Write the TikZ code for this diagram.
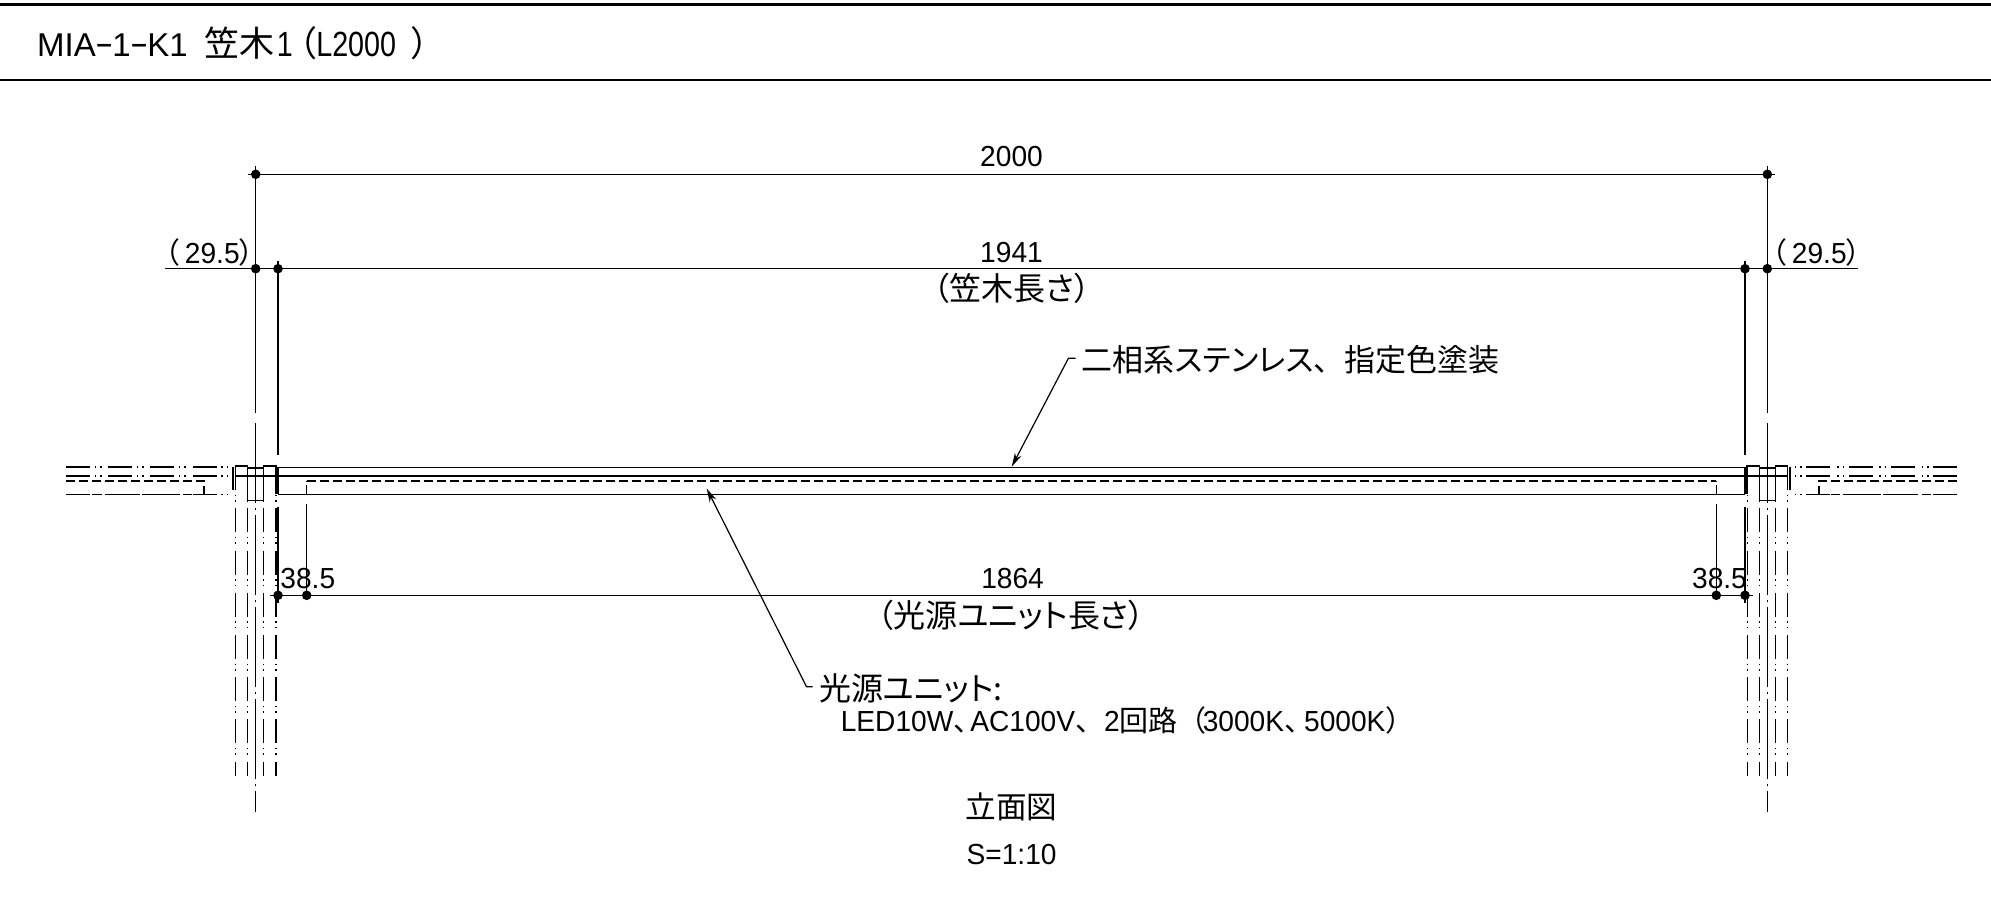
\documentclass[tikz,border=0pt]{standalone}
\usepackage{fontspec}
\usetikzlibrary{arrows.meta}
\setmainfont{Liberation Sans}
\newfontfamily\lat[FakeStretch=0.97]{Liberation Sans}
\newfontfamily\latT{Liberation Sans}
\newfontfamily\latN[FakeStretch=0.82]{Liberation Sans}
\newfontfamily\cjk[RawFeature=+palt]{Noto Sans CJK JP}
\newfontfamily\cjkF{Noto Sans CJK JP}
\newcommand{\J}[1]{{\cjk #1}}
\newcommand{\JF}[1]{{\cjkF #1}}
\newcommand{\wh}{\kern-0.5pt\raisebox{1pt}{\scalebox{1.7}[1]{-}}\kern-0.5pt}
\tikzset{
  x=0.5pt,y=-0.5pt,
  ln/.style={line width=0.75pt,black},
  thinln/.style={line width=0.6pt,black},
  phantomln/.style={line width=0.7pt,black,dash pattern=on 12pt off 2.25pt on .75pt off 2pt on .75pt off 3.35pt},
  centerln/.style={line width=0.7pt,black,dash pattern=on 40pt off 2.5pt on 1pt off 2.5pt},
  dashln/.style={line width=0.7pt,black,dash pattern=on 4.5pt off 2pt},
  dimdot/.style={circle,fill=black,inner sep=0pt,minimum size=4.8pt},
  lab/.style={inner sep=0pt,font=\fontsize{14.5}{16}\selectfont\lat,text=black},
  jlab/.style={inner sep=0pt,font=\fontsize{16}{18}\selectfont\cjk,text=black},
  tip/.style={-{Stealth[length=7pt,width=3.6pt]}},
}
\begin{document}
\begin{tikzpicture}
\useasboundingbox (0,0) rectangle (1991,899);
% header rules
\draw[line width=1.6pt] (0,4.5) -- (1991,4.5);
\draw[line width=1pt] (0,80) -- (1991,80);
% title
\node[anchor=west,inner sep=0pt,font=\fontsize{16.5}{19}\selectfont] (title) at (36.7,43)
  {\latT MIA\wh 1\wh K1\kern8.5pt{\fontsize{17.5}{19}\selectfont\cjk 笠木}\kern1pt{\fontsize{17.5}{19}\selectfont\latN 1\kern3pt{\cjk （}L2000\kern8pt{\cjk ）}}};

% symmetric parts: left (mirror 0) and right (mirror 1)
\foreach \m in {0,1}{
  \pgfmathsetmacro{\s}{\m==0 ? 1 : -1}
  \pgfmathsetmacro{\o}{\m==0 ? 0 : 2023}
  \begin{scope}[shift={(\o,0)},xscale=\s]
    % horizontal phantom rails
    \draw[phantomln] (66,467) -- (233,467);
    \draw[phantomln] (66,476) -- (233,476);
    \draw[phantomln] (66,494.3) -- (233,494.3);
    \draw[dashln] (66,481) -- (204,481) -- (204,494.3);
    \draw[dashln] (66,494.3) -- (204,494.3);
    % post
    \foreach \x in {235.3,247.5,263.7,275.8}{
      \draw[phantomln] (\x,466.25) -- (\x,776);
    }
    \draw[ln] (235.3,466) rectangle (247.5,476);
    \draw[ln] (263.7,466) rectangle (275.8,476);
    \draw[ln] (247.5,468) -- (263.7,468);
    \draw[ln] (235.3,476) -- (275.8,476);
    \draw[ln] (247.5,476) -- (247.5,500.7) -- (263.7,500.7) -- (263.7,476);
    \draw[ln] (233,467) -- (233,490);
    \draw[line width=1pt] (275.8,467) -- (275.8,494);
    % centre line
    \draw[ln] (255.7,174.3) -- (255.7,413);
    \draw[centerln] (255.7,423) -- (255.7,812);
    % witness lines
    \draw[ln] (278,262) -- (278,455);
    \draw[ln] (278,507) -- (278,603);
    \draw[ln] (306.7,504) -- (306.7,595.3);
    % dashed unit end
    \draw[dashln] (306.7,494.3) -- (306.7,481);
  \end{scope}
}

% body
\draw[ln] (278,467.3) -- (1745,467.3);
\draw[line width=1.1pt] (278,476) -- (1745,476);
\draw[ln] (278,467.3) -- (278,494.3);
\draw[ln] (1745,467.3) -- (1745,494.3);
\draw[ln] (278,494.3) -- (1745,494.3);
\draw[dashln] (306.7,481) -- (1716.3,481);
\draw[dashln] (306.7,494.3) -- (1716.3,494.3);

% dimensions
\coordinate (dA1) at (255.7,174.3); \coordinate (dA2) at (1767.3,174.3);
\coordinate (dB0) at (165,268.7);   \coordinate (dB1) at (255.7,268.7);
\coordinate (dB2) at (278,268.7);   \coordinate (dB3) at (1745,268.7);
\coordinate (dB4) at (1767.3,268.7);\coordinate (dB5) at (1858,268.7);
\coordinate (dC0) at (270,595.3);   \coordinate (dC1) at (278,595.3);
\coordinate (dC2) at (306.7,595.3); \coordinate (dC3) at (1716.3,595.3);
\coordinate (dC4) at (1745,595.3);  \coordinate (dC5) at (1753,595.3);
\draw[ln] ([xshift=-4pt]dA1) -- ([xshift=4pt]dA2);
\draw[ln] (dB0) -- (dB5);
\draw[ln] (dC0) -- (dC5);
\draw[ln] ([yshift=4pt]dA1) -- (dA1);
\draw[ln] ([yshift=4pt]dA2) -- (dA2);
\draw[ln] ([yshift=4pt]dB2) -- (dB2);
\draw[ln] ([yshift=4pt]dB3) -- (dB3);
\foreach \c in {dA1,dA2,dB1,dB2,dB3,dB4,dC1,dC2,dC3,dC4}{
  \node[dimdot] at (\c) {};
}

% dimension texts
\node[lab] (t2000) at (1011.5,157) {2000};
\node[lab] (t1941) at (1011.5,252.5) {1941};
\node[lab] (t1864) at (1012.6,578.5) {1864};
\node[lab,anchor=west] (tl295) at (165,252.7) {\J{（}\kern2.5pt 29.5\J{）}};
\node[lab,anchor=west] (tr295) at (1772,252.7) {\J{（}\kern2.5pt 29.5\J{）}};
\node[lab,anchor=west] (tl385) at (280,578.5) {38.5};
\node[lab,anchor=west] (tr385) at (1691.7,578.5) {38.5};
\node[jlab] (tkasagi) at (1012,288) {（笠木長さ）};
\node[jlab] (tunit) at (1011,615) {（光源ユニット長さ）};

% leaders
\node[jlab,font=\fontsize{15.5}{17}\selectfont\cjk,anchor=west] (tmat) at (1081.5,360) {二相系ステンレス\JF{、}指定色塗装};
\coordinate (m1) at (1075.7,358.3);
\coordinate (m2) at (1068.4,358.3);
\coordinate (m3) at (1011.7,466.7);
\draw[thinln,tip] (m1) -- (m2) -- (m3);

\node[jlab,anchor=west] (tlight) at (818.8,688) {光源ユニット:};
\node[lab,anchor=west] (tled) at (840.4,720)
  {LED10W\JF{、}\kern-6pt AC100V\JF{、}2\JF{回路（}\kern-2pt 3000K\JF{、}\kern-4.5pt 5000K\JF{）}};
\coordinate (u1) at (812.6,686.7);
\coordinate (u2) at (806.5,686.7);
\coordinate (u3) at (706.7,488.5);
\draw[thinln,tip] (u1) -- (u2) -- (u3);

% caption
\node[jlab,font=\fontsize{15.3}{17}\selectfont\cjk] (tcap) at (1011.6,806.7) {立面図};
\node[lab,font=\fontsize{14.5}{16}\selectfont\lat] (tscale) at (1011.6,855) {S=1:10};
\end{tikzpicture}
\end{document}
